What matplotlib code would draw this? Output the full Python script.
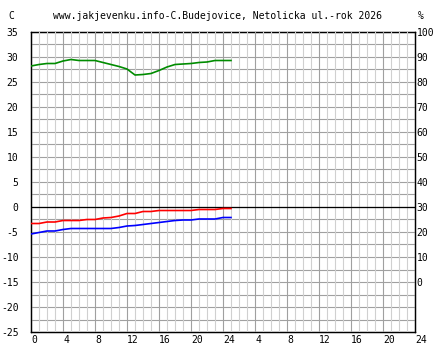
import matplotlib.pyplot as plt
import numpy as np

# hourly readings, day 1 (0-24 h) and start of day 2
hours = list(range(26))
temp_red = [-3.3, -3.3, -3.0, -3.0, -2.7, -2.7, -2.7, -2.5, -2.5, -2.2, -2.1, -1.8, -1.3,
            -1.3, -0.9, -0.9, -0.7, -0.7, -0.7, -0.7, -0.7, -0.5, -0.5, -0.5, -0.3, -0.3]
temp_blue = [-5.4, -5.1, -4.8, -4.8, -4.5, -4.3, -4.3, -4.3, -4.3, -4.3, -4.3, -4.1, -3.8,
             -3.7, -3.5, -3.3, -3.1, -2.9, -2.7, -2.6, -2.6, -2.4, -2.4, -2.4, -2.1, -2.1]
humidity = [86.4, 87.0, 87.4, 87.4, 88.4, 89.0, 88.6, 88.6, 88.6, 87.8, 87.0, 86.2, 85.2,
            82.8, 83.0, 83.4, 84.6, 86.0, 87.0, 87.2, 87.4, 87.8, 88.0, 88.6, 88.6, 88.6]

x_ticks = list(range(0, 49, 4))
x_labels = ["0", "4", "8", "12", "16", "20", "24", "4", "8", "12", "16", "20", "24"]
c_ticks = list(range(-25, 36, 5))
pct_ticks = list(range(0, 101, 10))

title = "www.jakjevenku.info-C.Budejovice, Netolicka ul.-rok 2026"
font = "DejaVu Sans Mono"
fs = 7

W, H = 444, 360
fig = plt.figure(figsize=(W / 100, H / 100), dpi=100)
ax = fig.add_axes([31 / W, (H - 332) / H, 384 / W, 300 / H])
ax2 = ax.twinx()

ax.set_xlim(0, 48)
ax.set_ylim(-25, 35)
ax2.set_ylim(-20, 100)

# grid: horizontal every 2.5 C, vertical every hour (darker every 4 h)
for v in np.arange(-22.5, 35, 2.5):
    ax.axhline(v, color="#a0a0a0", lw=0.8, zorder=1)
for h in range(1, 48):
    col = "#a0a0a0" if h % 4 == 0 else "#d0d0d0"
    ax.axvline(h, color=col, lw=0.8, zorder=3)
ax.axhline(0, color="black", lw=0.9, zorder=3.5)

# humidity drawn in ax but on the % scale of the right axis
ax.plot(hours, humidity, color="#008c00", lw=1.2, zorder=5, transform=ax2.transData)
ax.plot(hours, temp_red, color="#ff0000", lw=1.2, zorder=5)
ax.plot(hours, temp_blue, color="#0000ff", lw=1.2, zorder=5)
ax.set_zorder(ax2.get_zorder() + 1)
ax.patch.set_visible(False)

for a in (ax, ax2):
    for s in a.spines.values():
        s.set_color("black")
        s.set_linewidth(0.9)
    a.tick_params(length=0)

ax.set_xticks(x_ticks)
ax.set_xticklabels(x_labels, fontsize=fs, family=font, ha="left")
ax.set_yticks(c_ticks)
ax.set_yticklabels([str(c) for c in c_ticks], fontsize=fs, family=font)
ax.tick_params(axis="x", pad=2)
ax.tick_params(axis="y", pad=9)
ax2.set_yticks(pct_ticks)
ax2.set_yticklabels([str(p) for p in pct_ticks], fontsize=fs, family=font)
ax2.tick_params(axis="y", pad=1)

fig.text(217 / W, 1 - 16 / H, title, fontsize=fs, family=font, ha="center", va="center")
fig.text(11 / W, 1 - 16 / H, "C", fontsize=fs, family=font, ha="center", va="center")
fig.text(421 / W, 1 - 16 / H, "%", fontsize=fs, family=font, ha="center", va="center")

fig.savefig("out.png", dpi=100)
